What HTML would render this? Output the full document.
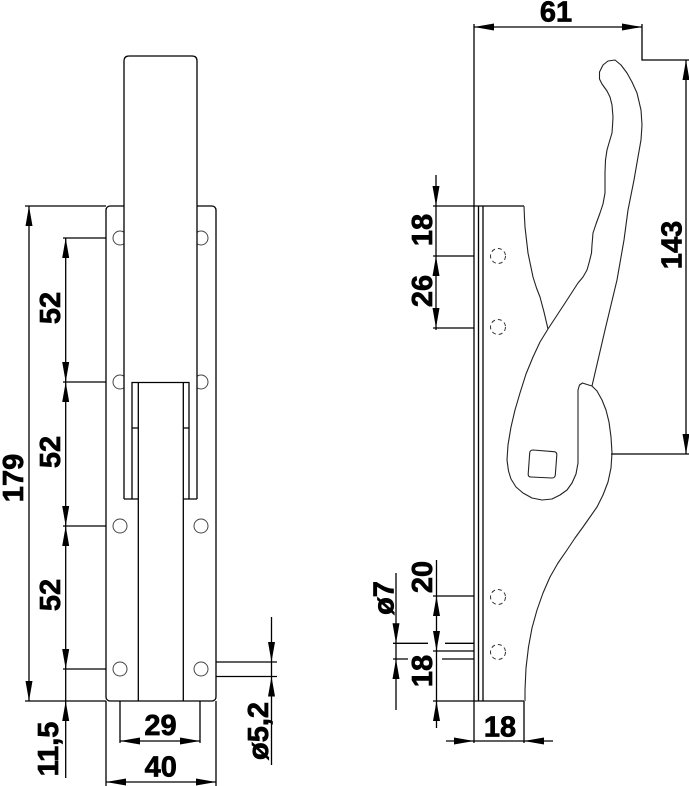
<!DOCTYPE html>
<html><head><meta charset="utf-8"><style>
html,body{margin:0;padding:0;background:#fff;}
svg{display:block;}
text{font-family:"Liberation Sans",Arial,sans-serif;font-weight:bold;font-size:29px;fill:#000;stroke:#000;stroke-width:0.7px;}
</style></head><body>
<svg width="689" height="786" viewBox="0 0 689 786" xmlns="http://www.w3.org/2000/svg">
<g fill="none" stroke="#000" stroke-width="1.3">
<!-- LEFT VIEW -->
<rect x="106" y="206" width="110" height="495" rx="4" ry="4"/>
<g stroke="#444" stroke-width="1">
<circle cx="120" cy="238" r="7"/><circle cx="201" cy="238" r="7"/>
<circle cx="120" cy="382" r="7"/><circle cx="201" cy="382" r="7"/>
<circle cx="120" cy="526" r="7"/><circle cx="201" cy="526" r="7"/>
<circle cx="120" cy="669" r="7"/><circle cx="201" cy="669" r="7"/>
</g>
<path d="M124,499 V61 Q124,56 129,56 H192 Q197,56 197,61 V499 Z" fill="#fff" stroke="none"/>
<path d="M124,499 V61 Q124,56 129,56 H192 Q197,56 197,61 V499"/>
<path d="M132,499 V382.5 H189 V499"/>
<path d="M138.3,382.5 V701 M183.3,382.5 V701"/>
<path d="M132,428 H138.3 M183.3,428 H189 M124,499 H138.3 M183.3,499 H197"/>
<!-- left dims -->
<path d="M25,206 H106 M25,701 H106 M29,206 V701"/>
<path d="M63,238 H106 M63,382 H106 M63,526 H106 M63,669 H106 M65.7,238 V778"/>
<path d="M120,701 V743 M200,701 V743 M120,741 H200"/>
<path d="M106,701 V786 M216,701 V786 M106,782 H216"/>
<path d="M216,662 H277 M216,676.5 H277 M271.5,617 V765"/>
<!-- RIGHT VIEW -->
<path d="M474,24 V743"/>
<path d="M474,27 H642 M642,24 V60 H689"/>
<path d="M686,60 V454 M611,454 H689"/>
<path d="M478.5,206 V701 M483,206 V701 M474,206 H524 M433,701 H524"/>
<path d="M433,206 H474 M433,256 H474 M433,328 H474 M436,175 V330"/>
<path d="M433,596 H474 M433,651 H474 M436.5,560 V728"/>
<path d="M393,643.3 H428 M445,643.3 H474 M393,659 H408 M442,659 H474 M396,573 V710"/>
<path d="M524,701 V743 M446,741 H553"/>
</g>
<!-- handle & plate curves -->
<g fill="none" stroke="#222" stroke-width="1.1" stroke-linejoin="round">
<polyline points="524,206 524.5,218 525,227 526.5,240 528,253 530.5,265 533,277 536.5,288 540,297 544,312 548,329"/>
<path d="M615,60 L608,61 L603,65 L599.5,72 L599.5,79 L602,84 L607,91 L610,97 L612,105 L613,117 L612.5,126 L612,133 L609,143 L607,150 L605.5,160 L605,173 L605,193 L603,204 L600,213 L596,224 L593,233 L592,245 L591.5,253 L589,263 L587,270 L583,277 L578,283 L567,300 L548,329 L540,342 L533,357 L526,374 L520,393 L515,410 L511,427 L508,445 L507,460 L508.5,471 L511,479 L516,487 L523,493 L532,498 L542,500 L552,499 L560,495 L567,490 L572,483 L576,474 L578,463 L578,390 L579.5,385 L582.5,383 L587,384.5 L592,386 L605,330 L617,280 L624,240 L628,210 L634,180 L638,157 L641,140 L642,125 L641,110 L637,93 L632,82 L627,73 L621,65 Z"/>
<polyline points="592,386 597,391 602,400 606,410 609,422 611,437 612,453 611,468 608,482 603,495 597,507 590,517 583,527 575,538 567,550 558,563 550,577 543,593 537,610 532,628 528.5,647 526,668 525,690 525,701"/>
<path d="M533,450 L554,451.7 Q557,452 556.8,455 L555.3,475 Q555,478 552,478 L531,477 Q528,477 528.2,474 L529.7,453 Q530,450 533,450 Z"/>
</g>
<g fill="none" stroke="#333" stroke-width="1" stroke-dasharray="4 3">
<circle cx="498" cy="256" r="7.5"/><circle cx="498" cy="327" r="7.5"/>
<circle cx="498" cy="597" r="7.5"/><circle cx="498" cy="652" r="7.5"/>
</g>
<!-- arrows -->
<g fill="#000" stroke="none">
<polygon points="29,206 25.5,226 32.5,226"/>
<polygon points="29,701 25.5,681 32.5,681"/>
<polygon points="65.7,238 62.2,258 69.2,258"/>
<polygon points="65.7,382 62.2,362 69.2,362"/>
<polygon points="65.7,382 62.2,402 69.2,402"/>
<polygon points="65.7,526 62.2,506 69.2,506"/>
<polygon points="65.7,526 62.2,546 69.2,546"/>
<polygon points="65.7,669 62.2,649 69.2,649"/>
<polygon points="65.7,701 62.2,721 69.2,721"/>
<polygon points="120,741 140,737.5 140,744.5"/>
<polygon points="200,741 180,737.5 180,744.5"/>
<polygon points="106,782 126,778.5 126,785.5"/>
<polygon points="216,782 196,778.5 196,785.5"/>
<polygon points="271.5,662 268,642 275,642"/>
<polygon points="271.5,676.5 268,696.5 275,696.5"/>
<polygon points="474,27 494,23.5 494,30.5"/>
<polygon points="642,27 622,23.5 622,30.5"/>
<polygon points="686,60 682.5,80 689.5,80"/>
<polygon points="686,454 682.5,434 689.5,434"/>
<polygon points="436,206 432.5,186 439.5,186"/>
<polygon points="436,256 432.5,276 439.5,276"/>
<polygon points="436,328 432.5,308 439.5,308"/>
<polygon points="436.5,596 433,616 440,616"/>
<polygon points="436.5,651 433,631 440,631"/>
<polygon points="436.5,701 433,721 440,721"/>
<polygon points="396,643.3 392.5,623.3 399.5,623.3"/>
<polygon points="396,659 392.5,679 399.5,679"/>
<polygon points="474,741 454,737.5 454,744.5"/>
<polygon points="524,741 544,737.5 544,744.5"/>
</g>
<!-- labels -->
<text x="160.5" y="735" text-anchor="middle">29</text>
<text x="160.7" y="776.5" text-anchor="middle">40</text>
<text x="556" y="21.5" text-anchor="middle">61</text>
<text x="500" y="736.5" text-anchor="middle">18</text>
<text transform="translate(23,478) rotate(-90)" text-anchor="middle">179</text>
<text transform="translate(60,308) rotate(-90)" text-anchor="middle">52</text>
<text transform="translate(60,452) rotate(-90)" text-anchor="middle">52</text>
<text transform="translate(60,595) rotate(-90)" text-anchor="middle">52</text>
<text transform="translate(58,749) rotate(-90)" text-anchor="middle">11,5</text>
<text transform="translate(268,731) rotate(-90)" text-anchor="middle">ø5,2</text>
<text transform="translate(681.5,245) rotate(-90)" text-anchor="middle">143</text>
<text transform="translate(432,230) rotate(-90)" text-anchor="middle">18</text>
<text transform="translate(432,291) rotate(-90)" text-anchor="middle">26</text>
<text transform="translate(432,577) rotate(-90)" text-anchor="middle">20</text>
<text transform="translate(432,671) rotate(-90)" text-anchor="middle">18</text>
<text transform="translate(393.5,598) rotate(-90)" text-anchor="middle">ø7</text>
</svg>
</body></html>
